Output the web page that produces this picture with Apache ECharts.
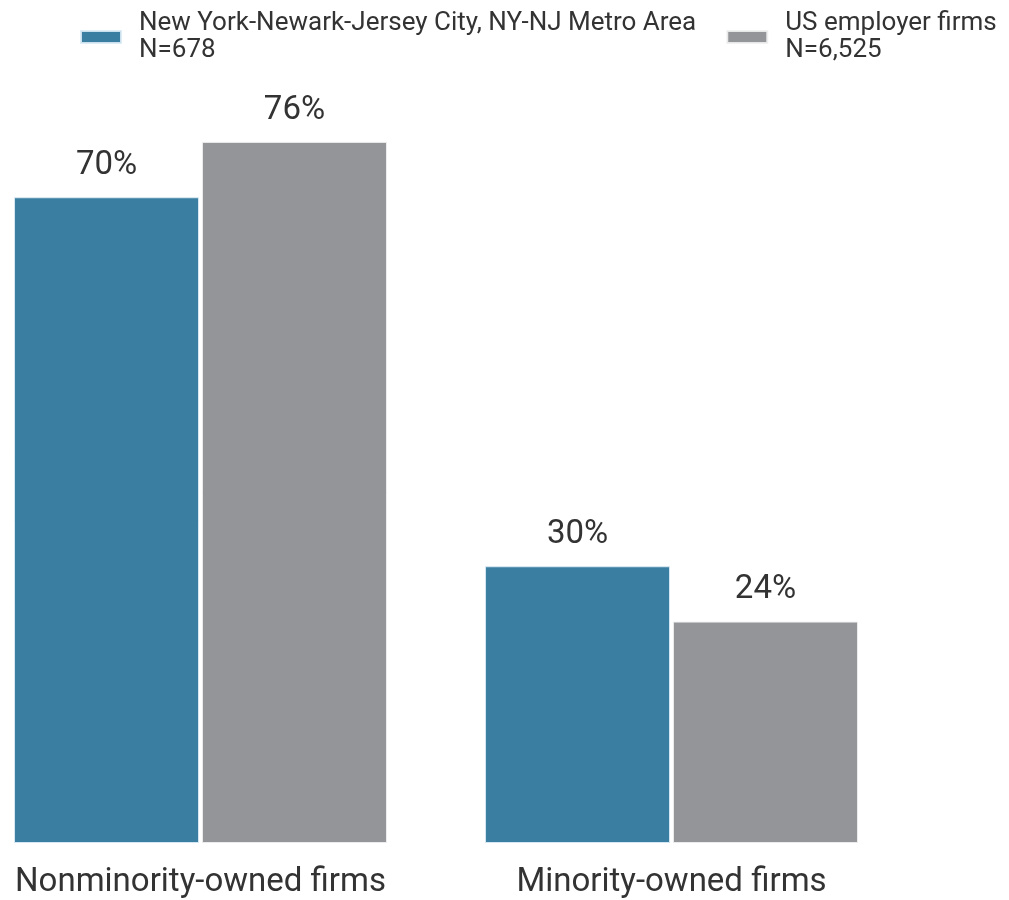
<!DOCTYPE html>
<html>
<head>
<meta charset="utf-8">
<script src="https://cdn.jsdelivr.net/npm/echarts@6/dist/echarts.min.js"></script>
<style>
  html, body { margin: 0; padding: 0; background: #fff; }
  #chart { width: 1009px; height: 900px; }
</style>
</head>
<body>
<div id="chart"></div>
<script>
// Share of employer firms by owner minority status
const categories = ['Nonminority-owned firms', 'Minority-owned firms'];
const seriesNames = ['New York-Newark-Jersey City, NY-NJ Metro Area\nN=678', 'US employer firms\nN=6,525'];
const metroValues = [70, 30];
const usValues = [76, 24];
const colors = ['#3a7ea1', '#939598'];

const chart = echarts.init(document.getElementById('chart'), null, { renderer: 'canvas' });

const labelStyle = {
  show: true,
  position: 'top',
  distance: 15,
  formatter: '{c}%',
  fontFamily: 'Roboto',
  fontSize: 33,
  color: '#333333'
};

chart.setOption({
  animation: false,
  textStyle: { fontFamily: 'Roboto' },
  legend: {
    top: 10,
    left: 80,
    padding: 0,
    itemWidth: 40,
    itemHeight: 12,
    itemGap: 30,
    icon: 'rect',
    textStyle: {
      fontFamily: 'Roboto',
      fontSize: 26,
      lineHeight: 27,
      color: '#333333',
      padding: [0, 0, 0, 13]
    },
    data: seriesNames
  },
  // Category ticks sit at the group centres (boundaryGap off), so the grid spans centre to centre
  grid: {
    left: 200.5,
    right: 337.5,
    top: 105,
    bottom: 57
  },
  xAxis: {
    type: 'category',
    boundaryGap: false,
    data: categories,
    axisLine: { show: false },
    axisTick: { show: false },
    axisLabel: {
      interval: 0,
      hideOverlap: false,
      margin: 23,
      fontFamily: 'Roboto',
      fontSize: 33,
      color: '#333333'
    }
  },
  yAxis: {
    type: 'value',
    min: 0,
    max: 80,
    show: false,
    splitLine: { show: false }
  },
  series: [
    {
      name: seriesNames[0],
      type: 'bar',
      data: metroValues,
      barWidth: 185,
      barGap: '1.6%',
      itemStyle: { color: colors[0], borderColor: 'rgba(220,235,245,0.9)', borderWidth: 1 },
      label: labelStyle
    },
    {
      name: seriesNames[1],
      type: 'bar',
      data: usValues,
      barWidth: 185,
      itemStyle: { color: colors[1], borderColor: 'rgba(240,240,240,0.9)', borderWidth: 1 },
      label: labelStyle
    }
  ]
});
</script>
</body>
</html>
